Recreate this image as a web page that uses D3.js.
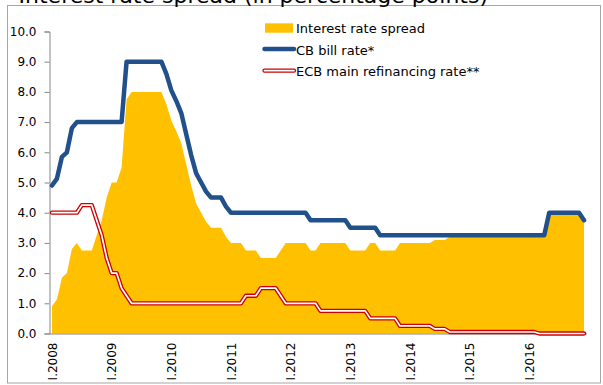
<!DOCTYPE html>
<html>
<head>
<meta charset="utf-8">
<script src="https://cdn.jsdelivr.net/npm/d3@7"></script>
<style>
  body { margin: 0; background: #fff; }
  text { font-family: 'DejaVu Sans', Verdana, sans-serif; fill: #000; }
</style>
</head>
<body>
<div id="main-container"></div>
<script>
const years = [2008, 2009, 2010, 2011, 2012, 2013, 2014, 2015, 2016]
const tickLabels = ['I.2008', 'I.2009', 'I.2010', 'I.2011', 'I.2012', 'I.2013', 'I.2014', 'I.2015', 'I.2016']
const yTicks = [0, 1, 2, 3, 4, 5, 6, 7, 8, 9, 10]

// CB bill rate*, monthly
const cbRate = [
  4.9, 5.13, 5.85, 6.0, 6.8, 7.0, 7.0, 7.0, 7.0, 7.0, 7.0, 7.0,
  7.0, 7.0, 7.0, 9.0, 9.0, 9.0, 9.0, 9.0, 9.0, 9.0, 9.0, 8.6,
  8.05, 7.7, 7.3, 6.6, 5.9, 5.3, 5.0, 4.7, 4.5, 4.5, 4.5, 4.2,
  4.0, 4.0, 4.0, 4.0, 4.0, 4.0, 4.0, 4.0, 4.0, 4.0, 4.0, 4.0,
  4.0, 4.0, 4.0, 4.0, 3.75, 3.75, 3.75, 3.75, 3.75, 3.75, 3.75, 3.75,
  3.5, 3.5, 3.5, 3.5, 3.5, 3.5, 3.25, 3.25, 3.25, 3.25, 3.25, 3.25,
  3.25, 3.25, 3.25, 3.25, 3.25, 3.25, 3.25, 3.25, 3.25, 3.25, 3.25, 3.25,
  3.25, 3.25, 3.25, 3.25, 3.25, 3.25, 3.25, 3.25, 3.25, 3.25, 3.25, 3.25,
  3.25, 3.25, 3.25, 3.25, 4.0, 4.0, 4.0, 4.0, 4.0, 4.0, 4.0, 3.75
]

// ECB main refinancing rate**, monthly
const ecbRate = [
  4.0, 4.0, 4.0, 4.0, 4.0, 4.0, 4.25, 4.25, 4.25, 3.75, 3.25, 2.5,
  2.0, 2.0, 1.5, 1.25, 1.0, 1.0, 1.0, 1.0, 1.0, 1.0, 1.0, 1.0,
  1.0, 1.0, 1.0, 1.0, 1.0, 1.0, 1.0, 1.0, 1.0, 1.0, 1.0, 1.0,
  1.0, 1.0, 1.0, 1.25, 1.25, 1.25, 1.5, 1.5, 1.5, 1.5, 1.25, 1.0,
  1.0, 1.0, 1.0, 1.0, 1.0, 1.0, 0.75, 0.75, 0.75, 0.75, 0.75, 0.75,
  0.75, 0.75, 0.75, 0.75, 0.5, 0.5, 0.5, 0.5, 0.5, 0.5, 0.25, 0.25,
  0.25, 0.25, 0.25, 0.25, 0.25, 0.15, 0.15, 0.15, 0.05, 0.05, 0.05, 0.05,
  0.05, 0.05, 0.05, 0.05, 0.05, 0.05, 0.05, 0.05, 0.05, 0.05, 0.05, 0.05,
  0.05, 0.05, 0.0, 0.0, 0.0, 0.0, 0.0, 0.0, 0.0, 0.0, 0.0, 0.0
]

// Interest rate spread, monthly
const spread = [
  0.9, 1.13, 1.85, 2.0, 2.8, 3.0, 2.75, 2.75, 2.75, 3.25, 3.75, 4.5,
  5.0, 5.0, 5.5, 7.75, 8.0, 8.0, 8.0, 8.0, 8.0, 8.0, 8.0, 7.6,
  7.05, 6.7, 6.3, 5.6, 4.9, 4.3, 4.0, 3.7, 3.5, 3.5, 3.5, 3.2,
  3.0, 3.0, 3.0, 2.75, 2.75, 2.75, 2.5, 2.5, 2.5, 2.5, 2.75, 3.0,
  3.0, 3.0, 3.0, 3.0, 2.75, 2.75, 3.0, 3.0, 3.0, 3.0, 3.0, 3.0,
  2.75, 2.75, 2.75, 2.75, 3.0, 3.0, 2.75, 2.75, 2.75, 2.75, 3.0, 3.0,
  3.0, 3.0, 3.0, 3.0, 3.0, 3.1, 3.1, 3.1, 3.2, 3.2, 3.2, 3.2,
  3.2, 3.2, 3.2, 3.2, 3.2, 3.2, 3.2, 3.2, 3.2, 3.2, 3.2, 3.2,
  3.2, 3.2, 3.25, 3.25, 4.0, 4.0, 4.0, 4.0, 4.0, 4.0, 4.0, 3.75
]

const months = []
years.forEach((yr) => { for (let m = 1; m <= 12; m++) months.push(yr + '-' + m) })

const width = 603
const height = 385
const plotLeft = 49.5
const plotRight = 586.5
const plotTop = 31.5
const plotBottom = 333.5

const svgCanvas = d3.select('#main-container').append('svg').attr('width', width).attr('height', height)

// chart border
svgCanvas.append('rect').attr('x', 7.5).attr('y', 5.5).attr('width', 593).attr('height', 377.5)
  .attr('fill', 'none').attr('stroke', '#a6a6a6').attr('stroke-width', 1)

// title, mostly cut off above the frame
svgCanvas.append('text').text('Interest rate spread (in percentage points)')
  .attr('x', 488).attr('y', 3).attr('text-anchor', 'end').style('font-size', '22px')

const xScale = d3.scaleLinear().domain([-0.5, months.length - 0.5]).range([plotLeft, plotRight])
const yScale = d3.scaleLinear().domain([0, 10]).range([plotBottom, plotTop])

// spread area
const area = d3.area().x((d, i) => xScale(i)).y0(yScale(0)).y1((d) => yScale(d))
svgCanvas.append('path').datum(spread).attr('d', area).attr('fill', '#ffc000')

// axes
const yAxis = d3.axisLeft(yScale).tickValues(yTicks).tickFormat(d3.format('.1f')).tickSize(5).tickPadding(8)
const gy = svgCanvas.append('g').attr('transform', `translate(${plotLeft},0)`).call(yAxis)
gy.select('.domain').attr('stroke', '#868686')
gy.selectAll('.tick line').attr('stroke', '#868686')
gy.selectAll('.tick text').style('font-size', '12px').attr('fill', '#000')

const tickIdx = tickLabels.map((_, k) => k * 12)
const xAxis = d3.axisBottom(xScale).tickValues(tickIdx).tickFormat((d, k) => tickLabels[k]).tickSize(0)
const gx = svgCanvas.append('g').attr('transform', `translate(0,${plotBottom})`).call(xAxis)
gx.select('.domain').attr('stroke', '#868686')
gx.selectAll('.tick text').style('font-size', '12px').attr('fill', '#000')
  .attr('text-anchor', 'end').attr('transform', 'rotate(-90)')
  .attr('x', -9).attr('y', 0).attr('dy', '0.36em')

// lines
const line = d3.line().x((d, i) => xScale(i)).y((d) => yScale(d))
svgCanvas.append('path').datum(cbRate).attr('d', line).attr('fill', 'none')
  .attr('stroke', '#21508a').attr('stroke-width', 4.5).attr('stroke-linejoin', 'round').attr('stroke-linecap', 'round')
svgCanvas.append('path').datum(ecbRate).attr('d', line).attr('fill', 'none')
  .attr('stroke', '#cc0000').attr('stroke-width', 4.3).attr('stroke-linejoin', 'round').attr('stroke-linecap', 'round')
svgCanvas.append('path').datum(ecbRate).attr('d', line).attr('fill', 'none')
  .attr('stroke', '#ffffff').attr('stroke-width', 1.7).attr('stroke-linejoin', 'round').attr('stroke-linecap', 'round')

// legend
const legend = svgCanvas.append('g').attr('transform', 'translate(263,28)')
legend.append('rect').attr('x', 2).attr('y', -4.7).attr('width', 28).attr('height', 9.4).attr('fill', '#ffc000')
legend.append('text').text('Interest rate spread').attr('x', 33).attr('y', 5).style('font-size', '13px')
legend.append('line').attr('x1', 1.5).attr('x2', 31).attr('y1', 21).attr('y2', 21)
  .attr('stroke', '#21508a').attr('stroke-width', 4.5).attr('stroke-linecap', 'round')
legend.append('text').text('CB bill rate*').attr('x', 33).attr('y', 26.5).style('font-size', '13px')
legend.append('line').attr('x1', 1.5).attr('x2', 31).attr('y1', 42.7).attr('y2', 42.7)
  .attr('stroke', '#cc0000').attr('stroke-width', 4.3).attr('stroke-linecap', 'round')
legend.append('line').attr('x1', 1.5).attr('x2', 31).attr('y1', 42.7).attr('y2', 42.7)
  .attr('stroke', '#ffffff').attr('stroke-width', 1.7).attr('stroke-linecap', 'round')
legend.append('text').text('ECB main refinancing rate**').attr('x', 33).attr('y', 48.2).style('font-size', '13px')
</script>
</body>
</html>
